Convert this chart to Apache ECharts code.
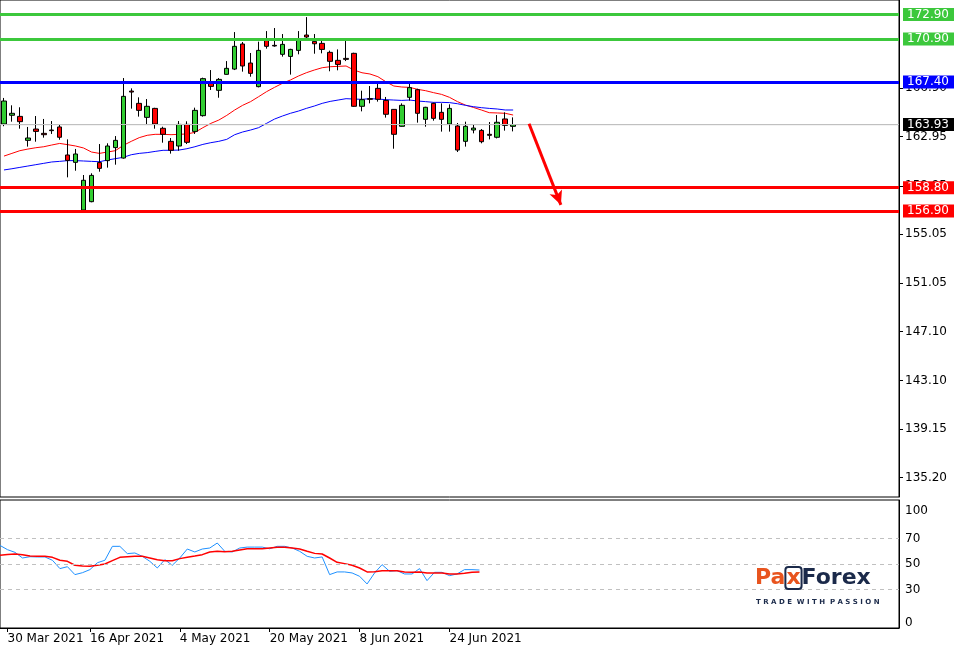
<!DOCTYPE html>
<html><head><meta charset="utf-8">
<script src="https://cdn.jsdelivr.net/npm/echarts@6/dist/echarts.min.js"></script>
<style>html,body{margin:0;padding:0;background:#fff}#c{width:954px;height:647px}</style>
</head><body><div id="c"></div>
<script>
const dates = ['29 Mar','30 Mar 2021','31 Mar','1 Apr','6 Apr','7 Apr','8 Apr','9 Apr','12 Apr','13 Apr','14 Apr','15 Apr','16 Apr 2021',
'19 Apr','20 Apr','21 Apr','22 Apr','23 Apr','26 Apr','27 Apr','28 Apr','29 Apr','30 Apr','3 May','4 May 2021',
'5 May','6 May','7 May','10 May','11 May','12 May','13 May','14 May','17 May','18 May','19 May','20 May 2021',
'21 May','24 May','25 May','26 May','27 May','28 May','1 Jun','2 Jun','3 Jun','4 Jun','7 Jun','8 Jun 2021',
'9 Jun','10 Jun','11 Jun','14 Jun','15 Jun','16 Jun','17 Jun','18 Jun','21 Jun','22 Jun','23 Jun','24 Jun 2021',
'25 Jun','28 Jun','29 Jun','30 Jun'];
const dateLabels = ['30 Mar 2021','16 Apr 2021','4 May 2021','20 May 2021','8 Jun 2021','24 Jun 2021'];
// [open, close, low, high]
const candles = [
[163.98,165.85,163.80,166.10],[164.69,164.85,164.17,165.50],[164.60,164.17,163.60,165.34],[162.65,162.84,162.14,163.74],
[163.57,163.38,162.54,164.63],[163.22,163.11,162.87,164.39],[163.49,163.44,163.17,164.22],[163.74,162.90,162.70,163.98],
[161.46,161.02,159.64,162.73],[160.86,161.54,160.18,161.95],[156.98,159.40,156.93,159.83],[157.66,159.80,157.61,159.97],
[160.84,160.37,160.10,162.35],[161.00,162.19,160.43,162.41],[162.06,162.65,160.67,163.00],[161.21,166.23,161.16,167.72],
[166.66,166.58,165.23,166.88],[165.66,165.09,164.58,166.15],[164.52,165.42,163.98,166.01],[165.25,163.98,163.60,165.30],
[163.63,163.14,162.46,163.76],[162.57,161.84,161.57,162.84],[162.19,163.95,161.81,164.22],[163.95,162.49,162.35,164.20],
[163.38,165.09,163.17,165.31],[164.66,167.67,164.58,167.75],[167.34,167.04,166.75,168.37],[166.72,167.61,166.12,167.72],
[168.02,168.51,168.00,169.10],[168.45,170.30,168.37,171.46],[170.49,168.70,168.24,170.65],[168.94,168.10,167.83,169.76],
[167.02,169.97,166.96,170.68],[170.84,170.30,170.11,171.54],[170.38,170.33,170.27,171.79],[169.65,170.46,169.46,171.30],
[169.48,170.05,168.00,170.10],[169.97,170.87,169.65,171.54],[171.22,171.06,170.76,172.68],[170.70,170.51,169.70,171.30],
[170.54,170.05,169.73,170.87],[169.81,169.08,168.27,169.95],[169.16,168.83,168.35,170.05],[169.32,169.24,169.10,170.84],
[169.73,165.42,165.38,169.78],[165.42,165.96,165.01,166.69],[166.04,165.99,165.66,167.07],[166.88,165.99,165.80,167.42],
[165.90,164.77,164.50,166.18],[165.17,163.14,161.97,165.20],[163.79,165.50,163.76,165.66],[166.15,166.94,165.88,167.29],
[166.77,164.85,164.09,166.85],[164.36,165.34,163.76,165.38],[165.66,164.44,164.25,165.72],[164.93,164.36,163.36,165.66],
[163.98,165.25,163.36,165.58],[163.82,161.86,161.70,164.06],[162.57,163.79,162.14,164.17],[163.49,163.65,163.22,163.95],
[163.46,162.54,162.41,163.57],[163.14,163.06,162.73,164.14],[162.90,164.12,162.81,164.71],[164.39,163.87,163.44,164.93],
[163.79,163.93,163.38,164.52]];
const maFast = [161.37,161.59,161.81,161.94,162.05,162.13,162.27,162.40,162.30,162.19,162.03,161.70,161.59,161.70,161.81,162.24,
162.57,162.87,163.06,163.14,163.14,163.11,163.14,163.17,163.30,163.68,164.03,164.30,164.68,165.12,165.50,165.80,166.20,166.61,
166.96,167.29,167.56,167.88,168.15,168.37,168.56,168.64,168.67,168.70,168.37,168.15,168.05,167.83,167.42,167.07,166.99,166.96,
166.80,166.69,166.53,166.39,166.15,165.80,165.52,165.33,165.12,164.90,164.88,164.85,164.71];
const maSlow = [160.24,160.34,160.45,160.56,160.67,160.78,160.89,160.94,161.00,161.00,160.97,160.94,160.91,161.05,161.16,161.27,
161.48,161.59,161.65,161.75,161.84,161.84,161.86,161.97,162.13,162.32,162.46,162.57,162.73,163.11,163.33,163.49,163.68,164.03,
164.38,164.63,164.85,165.03,165.25,165.44,165.66,165.82,165.93,166.04,166.01,165.99,166.04,166.01,165.96,165.93,165.90,165.93,
165.85,165.80,165.74,165.74,165.72,165.63,165.50,165.39,165.31,165.25,165.20,165.12,165.12];
const rsi = [64.5,61.2,59.1,54.7,55.7,55.5,55.5,52.9,46.4,47.9,41.7,43.2,45.6,51.0,52.9,63.8,63.8,58.1,58.6,56.0,52.1,46.9,53.4,
49.0,54.7,61.7,59.4,61.7,62.5,66.4,59.9,59.4,62.5,63.2,63.2,63.2,61.9,63.8,63.8,62.5,59.9,56.0,54.7,55.5,41.7,43.8,43.8,43.0,
40.4,34.4,43.0,49.5,44.3,44.8,42.2,42.2,46.4,37.0,43.5,43.5,40.9,42.2,45.6,45.6,45.3];
const rsiSignal = [56.8,57.5,57.8,57.3,56.2,56.0,56.0,55.2,52.9,52.1,49.0,48.4,48.2,49.0,50.0,52.6,55.2,55.7,56.0,56.0,54.7,53.4,
52.6,52.6,54.2,55.2,56.2,57.3,59.4,59.9,59.6,59.9,60.9,61.9,61.9,61.9,62.5,63.0,63.0,62.5,61.7,59.9,58.3,57.8,54.7,51.3,50.3,
49.0,46.9,43.8,44.0,44.8,44.8,44.8,43.8,43.5,43.8,43.0,43.0,43.0,42.2,42.2,42.7,43.5,43.8];
const priceTicks = [166.90,162.95,158.95,155.05,151.05,147.10,143.10,139.15,135.20];
const rsiTicks = [0,30,50,70,100];
const resistance = [172.90,170.90];
const pivot = 167.40;
const support = [158.80,156.90];
const lastPrice = 163.93;
const arrowFrom = [66, 164.0], arrowTo = [70, 157.4];

const mainCats = dates.concat(Array.from({length:113-dates.length},(_,i)=>'f'+i));
const lowCats = dates.concat(Array.from({length:121-dates.length},(_,i)=>'g'+i));
const FONT = 'DejaVu Sans';

function lvl(v,color,w){
  return {yAxis:v,lineStyle:{color:color,width:w,type:'solid'},
    label:{show:true,position:'end',formatter:v.toFixed(2),color:'#fff',backgroundColor:color,
      fontFamily:FONT,fontSize:12,padding:[1,6,0,4],distance:4}};
}
const chart = echarts.init(document.getElementById('c'));
chart.setOption({
  animation:false,
  grid:[{left:-5,top:0,width:904,height:497,show:true,borderColor:'#000',borderWidth:1},
        {left:0,top:500,width:899,height:128,show:true,borderColor:'#000',borderWidth:1}],
  xAxis:[{type:'category',gridIndex:0,data:mainCats,boundaryGap:true,axisLine:{show:false},axisTick:{show:false},axisLabel:{show:false}},
         {type:'category',gridIndex:1,data:lowCats,boundaryGap:false,axisLine:{lineStyle:{color:'#000'}},
          axisTick:{show:true,length:4,lineStyle:{color:'#000'},interval:(i,v)=>dateLabels.includes(v)},
          axisLabel:{interval:(i,v)=>dateLabels.includes(v),align:'left',color:'#000',fontFamily:FONT,fontSize:12,margin:5}}],
  yAxis:[{type:'value',gridIndex:0,position:'right',min:133.63,max:174.07,splitLine:{show:false},
          axisLine:{show:true,lineStyle:{color:'#000'}},
          axisTick:{show:true,length:4,customValues:priceTicks,lineStyle:{color:'#000'}},
          axisLabel:{customValues:priceTicks,formatter:v=>v.toFixed(2),color:'#000',fontFamily:FONT,fontSize:12,margin:6}},
         {type:'value',gridIndex:1,position:'right',min:0,max:100,splitLine:{show:false},
          axisLine:{show:true,lineStyle:{color:'#000'}},axisTick:{show:false},
          axisLabel:{customValues:rsiTicks,color:'#000',fontFamily:FONT,fontSize:12,margin:6,
            formatter:v=>v===100?'{t|100}':(v===0?'{b|0}':String(v)),
            rich:{t:{fontFamily:FONT,fontSize:12,color:'#000',padding:[22,0,0,0]},b:{fontFamily:FONT,fontSize:12,color:'#000',padding:[0,0,10,0]}}}}],
  series:[
    {type:'candlestick',xAxisIndex:0,yAxisIndex:0,data:candles,barWidth:5,
     itemStyle:{color:'#32cd32',color0:'#ff0000',borderColor:'#000',borderColor0:'#000',borderWidth:1},
     markLine:{silent:true,symbol:'none',animation:false,
       data:[lvl(resistance[0],'#3cc83c',3),lvl(resistance[1],'#3cc83c',3),lvl(pivot,'#0000ff',3),
             lvl(support[0],'#ff0000',3),lvl(support[1],'#ff0000',3),lvl(lastPrice,'#000',0.1),
             {yAxis:lastPrice,lineStyle:{color:'#c0c0c0',width:1,type:'solid'},label:{show:false}},
             [{coord:arrowFrom,symbol:'none',lineStyle:{color:'#ff0000',width:3,type:'solid'},label:{show:false}},
              {coord:arrowTo,symbol:'arrow',symbolSize:[10,14]}]]}},
    {type:'line',xAxisIndex:0,yAxisIndex:0,data:maFast,showSymbol:false,lineStyle:{color:'#ff0000',width:1},z:1},
    {type:'line',xAxisIndex:0,yAxisIndex:0,data:maSlow,showSymbol:false,lineStyle:{color:'#0000ff',width:1},z:1},
    {type:'line',xAxisIndex:1,yAxisIndex:1,data:rsi,showSymbol:false,lineStyle:{color:'#1e90ff',width:1},
     markLine:{silent:true,symbol:'none',label:{show:false},lineStyle:{color:'#c0c0c0',type:[4,4],width:1},
       data:[{yAxis:30},{yAxis:50},{yAxis:70}]}},
    {type:'line',xAxisIndex:1,yAxisIndex:1,data:rsiSignal,showSymbol:false,lineStyle:{color:'#ff0000',width:1.5}}
  ],
  graphic:[
    {type:'text',left:755,top:566,z:100,style:{text:'{o|Pa}{x|x}{n|Forex}',rich:{
      o:{fill:'#e8541e',font:'bold 22px "DejaVu Sans"'},
      x:{fill:'#e8541e',font:'bold 22px "DejaVu Sans"',borderColor:'#1b2a4a',borderWidth:2,borderRadius:3,padding:[0,1,0,1]},
      n:{fill:'#1b2a4a',font:'bold 22px "DejaVu Sans"'}}}},
    {type:'text',left:756,top:599,z:100,style:{text:'T R A D E  W I T H  P A S S I O N',fill:'#1b2a4a',font:'bold 7px "DejaVu Sans"'}}
  ]
});
</script></body></html>
